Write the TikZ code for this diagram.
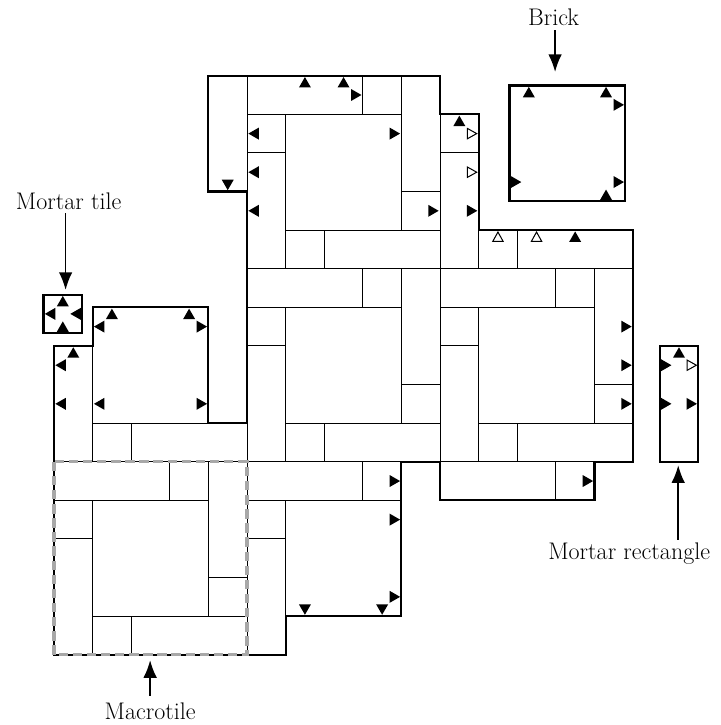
\documentclass[tikz,border=0pt]{standalone}
\usepackage{fontspec}
\usetikzlibrary{arrows.meta}
\definecolor{dashgray}{RGB}{168,168,168}
\newcommand\trih{0.27}
\newcommand\triw{0.155}
\newcommand\trid{0.035}
\newcommand\T[4]{\pic[rotate=#3] at (#1,#2) {#4};}
\begin{document}
\begin{tikzpicture}[x=1cm,y=-1cm,
  thinline/.style={line width=0.65pt},
  thickline/.style={line width=1.55pt},
  lbl/.style={font=\fontsize{17.7pt}{21pt}\selectfont, inner sep=0pt},
  arr/.style={line width=1.3pt, -{Latex[length=13pt,width=10pt]}},
  macrodash/.style={draw=dashgray, line width=2.3pt, dash pattern=on 7pt off 3.4pt},
  tout/.pic={\fill (-\trid,0) -- ++(-\trih,\triw) -- ++(0,-2*\triw) -- cycle;},
  tin/.pic={\fill (\trid+\trih,0) -- ++(-\trih,\triw) -- ++(0,-2*\triw) -- cycle;},
  otout/.pic={\filldraw[fill=white,draw=black,line width=0.75pt] (-\trid-0.015,0) -- ++(-\trih+0.03,\triw-0.022) -- ++(0,-2*\triw+0.044) -- cycle;}
]
\useasboundingbox (-1.399,-1.961) rectangle (17.254,16.82);

% ---- macrotile pattern clipped to the outline
\begin{scope}
\clip (4,0) -- (10,0) -- (10,1) -- (11,1) -- (11,4) -- (15,4) -- (15,10) -- (14,10) -- (14,11) -- (10,11) -- (10,10) -- (9,10) -- (9,14) -- (6,14) -- (6,15) -- (0,15) -- (0,7) -- (1,7) -- (1,6) -- (4,6) -- (4,9) -- (5,9) -- (5,3) -- (4,3) -- cycle;
\foreach \a in {0,5,10}{
 \foreach \b in {0,5,10}{
  \draw[thinline]
   (\a,\b) rectangle (\a+3,\b+1)
   (\a+3,\b) rectangle (\a+4,\b+1)
   (\a+4,\b) rectangle (\a+5,\b+3)
   (\a+4,\b+3) rectangle (\a+5,\b+4)
   (\a+1,\b+4) rectangle (\a+2,\b+5)
   (\a+2,\b+4) rectangle (\a+5,\b+5)
   (\a,\b+1) rectangle (\a+1,\b+2)
   (\a,\b+2) rectangle (\a+1,\b+5)
   (\a+1,\b+1) rectangle (\a+4,\b+4);
 }}
\end{scope}
\draw[thickline] (4,0) -- (10,0) -- (10,1) -- (11,1) -- (11,4) -- (15,4) -- (15,10) -- (14,10) -- (14,11) -- (10,11) -- (10,10) -- (9,10) -- (9,14) -- (6,14) -- (6,15) -- (0,15) -- (0,7) -- (1,7) -- (1,6) -- (4,6) -- (4,9) -- (5,9) -- (5,3) -- (4,3) -- cycle;

% ---- triangles of the assembly
\T{6.5}{0}{90}{tout}
\T{7.5}{0}{90}{tout}
\T{8}{0.5}{0}{tout}
\T{5}{1.5}{180}{tout}
\T{9}{1.5}{0}{tout}
\T{5}{2.5}{180}{tout}
\T{5}{3.5}{180}{tout}
\T{4.5}{3}{270}{tout}
\T{10}{3.5}{0}{tout}
\T{10.5}{1}{90}{tout}
\T{11}{1.5}{0}{otout}
\T{11}{2.5}{0}{otout}
\T{11}{3.5}{0}{tout}
\T{11.5}{4}{90}{otout}
\T{12.5}{4}{90}{otout}
\T{13.5}{4}{90}{tout}
\T{15}{6.5}{0}{tout}
\T{15}{7.5}{0}{tout}
\T{15}{8.5}{0}{tout}
\T{14}{10.5}{0}{tout}
\T{9}{10.5}{0}{tout}
\T{9}{11.5}{0}{tout}
\T{9}{13.5}{0}{tout}
\T{6.5}{14}{270}{tout}
\T{8.5}{14}{270}{tout}
\T{1.5}{6}{90}{tout}
\T{3.5}{6}{90}{tout}
\T{1}{6.5}{180}{tout}
\T{4}{6.5}{0}{tout}
\T{0.5}{7}{90}{tout}
\T{0}{7.5}{180}{tout}
\T{0}{8.5}{180}{tout}
\T{1}{8.5}{180}{tout}
\T{4}{8.5}{0}{tout}

% ---- dashed macrotile
\draw[macrodash] (0,10) rectangle (5,15);

% ---- brick
\draw[thickline] (11.8,0.255) rectangle (14.8,3.255);
\T{12.3}{0.255}{90}{tout}
\T{14.3}{0.255}{90}{tout}
\T{14.8}{0.755}{0}{tout}
\T{11.8}{2.755}{0}{tin}
\T{14.8}{2.755}{0}{tout}
\T{14.3}{3.255}{90}{tin}

% ---- mortar tile
\draw[thickline] (-0.272,5.67) rectangle (0.728,6.67);
\T{0.228}{5.67}{90}{tout}
\T{-0.272}{6.17}{180}{tout}
\T{0.728}{6.17}{180}{tin}
\T{0.228}{6.67}{90}{tin}

% ---- mortar rectangle
\draw[thickline] (15.69,7) rectangle (16.69,10);
\T{16.19}{7}{90}{tout}
\T{15.69}{7.5}{0}{tin}
\T{16.69}{7.5}{0}{otout}
\T{15.69}{8.5}{0}{tin}
\T{16.69}{8.5}{0}{tout}

% ---- labels and arrows
\node[lbl] (brickLbl) at (12.94,-1.508) {Brick};
\coordinate (brickTip) at (12.98,-0.096);
\draw[arr, shorten <=3pt] (brickLbl.south -| brickTip) -- (brickTip);

\node[lbl] (mtLbl) at (0.38,3.26) {Mortar tile};
\coordinate (mtTip) at (0.30,5.55);
\draw[arr, shorten <=2.4pt] (mtLbl.south -| mtTip) -- (mtTip);

\node[lbl] (mrLbl) at (14.9,12.38) {Mortar rectangle};
\coordinate (mrTip) at (16.17,10.09);
\draw[arr, shorten <=2.2pt] (mrLbl.north -| mrTip) -- (mrTip);

\node[lbl] (mcLbl) at (2.49,16.46) {Macrotile};
\coordinate (mcTip) at (2.49,15.14);
\draw[arr, shorten <=5pt] (mcLbl.north) -- (mcTip);
\end{tikzpicture}
\end{document}
